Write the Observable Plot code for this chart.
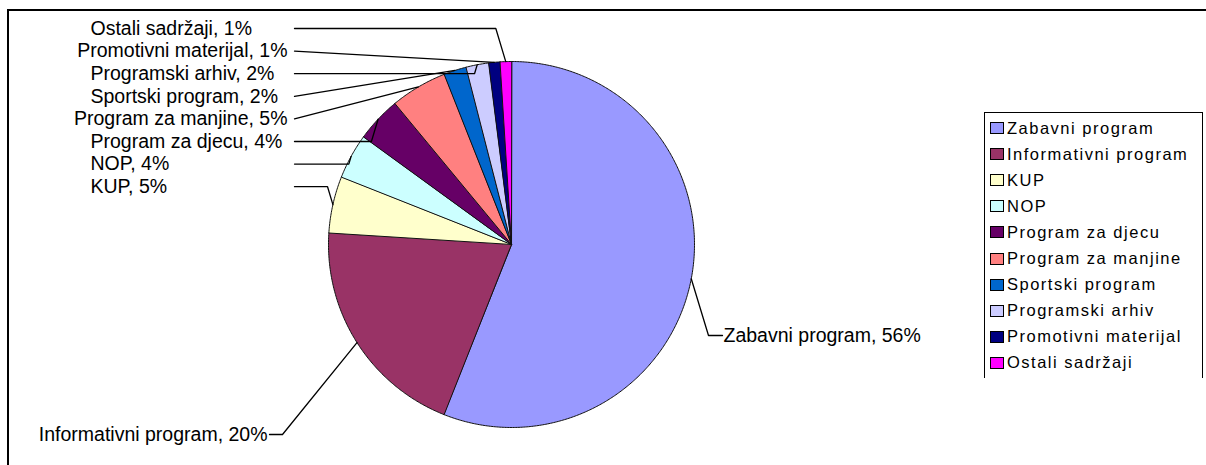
<!DOCTYPE html>
<html>
<head>
<meta charset="utf-8">
<script src="https://cdn.jsdelivr.net/npm/d3@7"></script>
<script src="https://cdn.jsdelivr.net/npm/@observablehq/plot@0.6"></script>
<style>
  body { margin: 0; background: #fff; font-family: "Liberation Sans", Arial, sans-serif; }
  #wrap { position: relative; width: 1206px; height: 465px; overflow: hidden; background: #fff; }
  #frame { position: absolute; left: 7px; top: 9px; width: 1300px; height: 600px; border-top: 2px solid #000; border-left: 2px solid #000; pointer-events: none; }
  #chart { position: absolute; left: 0; top: 0; }
  #legend { position: absolute; left: 984px; top: 112px; width: 219px; height: 266px; border: 1.5px solid #000; border-bottom: none; box-sizing: border-box; padding-top: 2px; }
  .item { height: 26.1px; display: flex; align-items: center; font-size: 16.5px; letter-spacing: 1.5px; color: #000; white-space: nowrap; }
  .sw { width: 12px; height: 10px; border: 1.5px solid #000; margin-left: 5px; margin-right: 3px; flex: none; }
</style>
</head>
<body>
<div id="wrap">
  <div id="chart"></div>
  <div id="frame"></div>
  <div id="legend"></div>
</div>
<script>
const categories = ["Zabavni program", "Informativni program", "KUP", "NOP", "Program za djecu",
  "Program za manjine", "Sportski program", "Programski arhiv", "Promotivni materijal", "Ostali sadržaji"];
const shares = [56, 20, 5, 4, 4, 5, 2, 2, 1, 1];
const sliceColors = ["#9999ff", "#993366", "#ffffcc", "#ccffff", "#660066",
  "#ff8080", "#0066cc", "#ccccff", "#000080", "#ff00ff"];

const W = 1206, H = 465;
const cx = 511, cy = 244, R = 183;
const FONT = '"Liberation Sans", Arial, sans-serif';
const FS = 19.5;

const arcs = d3.pie().sort(null).value(d => d.value)(
  categories.map((c, i) => ({cat: c, value: shares[i]}))
);
const pt = (a, r) => [cx + r * Math.sin(a), cy - r * Math.cos(a)];

// slice polygons
const poly = [];
arcs.forEach(a => {
  poly.push({cat: a.data.cat, x: cx, y: cy});
  const n = Math.max(2, Math.ceil((a.endAngle - a.startAngle) / (Math.PI / 360)));
  for (let k = 0; k <= n; k++) {
    const t = a.startAngle + (a.endAngle - a.startAngle) * k / n;
    const [x, y] = pt(t, R);
    poly.push({cat: a.data.cat, x, y});
  }
});

// label layout
const ctx = document.createElement("canvas").getContext("2d");
ctx.font = `${FS}px ${FONT}`;
const labels = [];
const leaders = [];
const arcBy = new Map(arcs.map(a => [a.data.cat, a]));
const edgeOf = c => { const a = arcBy.get(c); return pt((a.startAngle + a.endAngle) / 2, R); };
const straightRows = new Set([1, 3, 4]);

categories.slice(2).reverse().forEach((c, k) => {
  const i = categories.indexOf(c);
  const text = `${c}, ${shares[i]}%`;
  const w = ctx.measureText(text).width;
  const y = 28 + 22.6 * k;
  const x0 = Math.min(90, 287 - w);
  labels.push({text, x: x0, y, anchor: "start"});
  const [ex, ey] = edgeOf(c);
  const sx = Math.max(294, x0 + w + 3);
  const dy = Math.abs(ey - y);
  const bx = straightRows.has(k) ? sx : ex - 0.3 * dy;
  leaders.push({id: c, x: sx, y}, {id: c, x: bx, y}, {id: c, x: ex, y: ey});
});
{
  const c = categories[0];
  const text = `${c}, ${shares[0]}%`;
  const lx = 723, ly = 335;
  labels.push({text, x: lx, y: ly, anchor: "start"});
  const [ex, ey] = edgeOf(c);
  leaders.push({id: c, x: ex, y: ey}, {id: c, x: lx - 15, y: ly}, {id: c, x: lx - 1, y: ly});
}
{
  const c = categories[1];
  const text = `${c}, ${shares[1]}%`;
  const lx = 267, ly = 434;
  labels.push({text, x: lx, y: ly, anchor: "end"});
  const [ex, ey] = edgeOf(c);
  leaders.push({id: c, x: lx + 2, y: ly}, {id: c, x: lx + 15, y: ly}, {id: c, x: ex, y: ey});
}

const chart = Plot.plot({
  width: W,
  height: H,
  margin: 0,
  x: {domain: [0, W], range: [0, W], axis: null},
  y: {domain: [0, H], range: [0, H], axis: null},
  color: {domain: categories, range: sliceColors},
  style: {fontFamily: FONT, background: "transparent"},
  marks: [
    Plot.line(poly, {x: "x", y: "y", z: "cat", fill: "cat", stroke: "#111", strokeWidth: 1, curve: "linear-closed", strokeLinejoin: "round"}),
    Plot.line(leaders, {x: "x", y: "y", z: "id", stroke: "#000", strokeWidth: 1.3}),
    Plot.text(labels.filter(d => d.anchor === "start"), {x: "x", y: "y", text: "text", textAnchor: "start", fontSize: FS, fill: "#000"}),
    Plot.text(labels.filter(d => d.anchor === "end"), {x: "x", y: "y", text: "text", textAnchor: "end", fontSize: FS, fill: "#000"})
  ]
});
document.getElementById("chart").appendChild(chart);

const legend = document.getElementById("legend");
categories.forEach((c, i) => {
  const row = document.createElement("div");
  row.className = "item";
  const sw = document.createElement("span");
  sw.className = "sw";
  sw.style.background = sliceColors[i];
  const t = document.createElement("span");
  t.textContent = c;
  row.appendChild(sw);
  row.appendChild(t);
  legend.appendChild(row);
});
</script>
</body>
</html>
